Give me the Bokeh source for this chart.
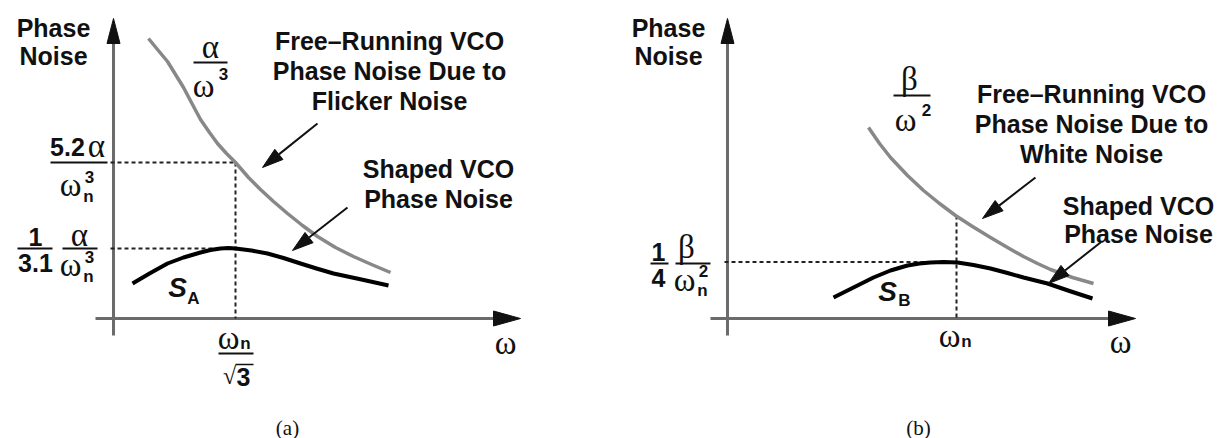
import math
from bokeh.plotting import figure
from bokeh.layouts import row
from bokeh.models import Range1d
from bokeh.core.properties import value
from bokeh.embed import file_html
from bokeh.resources import INLINE

# ---------------- data (diagram units: right of / above the origin) ----------------
# Panel (a): flicker-noise case
A_FREE_W = [35, 44, 54, 62, 70, 79, 87, 96, 104, 113, 122, 135, 147, 160, 174, 189, 204, 222, 240, 258, 277]
A_FREE_PN = [280, 269, 257, 244, 231, 214, 199, 186, 175, 165, 156, 141, 129, 117, 105, 93, 82, 71, 62, 54, 46]
A_SHAPED_W = [19, 36, 54, 70, 87, 97, 107, 115, 122, 138, 154, 170, 187, 203, 220, 248, 275]
A_SHAPED_PN = [35, 45, 55, 61, 66, 68.5, 70, 70.5, 70, 68, 65, 60.5, 55, 50, 45, 39, 33]
A_MARK_W = 122     # omega_n / sqrt(3)
A_MARK_FREE = 156  # 5.2 alpha / omega_n^3
A_MARK_PEAK = 70   # (1/3.1) alpha / omega_n^3

# Panel (b): white-noise case
B_FREE_W = [141, 152, 163, 180, 196, 212, 228, 245, 263, 280, 296, 310, 323, 345, 366]
B_FREE_PN = [191, 175, 161, 143, 128, 115, 103, 92, 81, 71, 62, 55, 49, 41, 35]
B_SHAPED_W = [106, 126, 146, 163, 180, 192, 203, 216, 230, 246, 263, 280, 296, 320, 342, 365]
B_SHAPED_PN = [21, 31, 41, 48, 53, 55, 56, 56.5, 56, 53.5, 50, 45.5, 41, 35, 27.5, 20]
B_MARK_W = 229     # omega_n
B_MARK_FREE = 103
B_MARK_PEAK = 56.5  # (1/4) beta / omega_n^2

# axis extents (diagram units)
A_AXIS = dict(x0=-18, x1=407, y0=-17, y1=300)
B_AXIS = dict(x0=-17, x1=408, y0=-17, y1=300)

# callout arrows: (start_w, start_pn, tip_w, tip_pn)
A_CALLOUTS = [(204, 195, 149, 151), (234, 111, 179, 68)]
B_CALLOUTS = [(308, 141, 255, 100), (373, 76, 321, 35)]

SANS = "Liberation Sans"
SERIF = "Liberation Serif"
INK = "#111111"
AXIS_C = "#6b6b6b"
FREE_C = "#888888"
GREEK = 33


def make_fig(w, x0):
    p = figure(width=w, height=438, x_range=Range1d(x0, x0 + w), y_range=Range1d(-120, 318),
               output_backend="svg", toolbar_location=None,
               x_axis_location=None, y_axis_location=None, min_border=0)
    p.grid.visible = False
    p.outline_line_color = None
    p.background_fill_color = "white"
    p.border_fill_color = "white"
    return p


def txt(p, x, y, s, size, font=SANS, style="bold", align="center", color=INK):
    p.text(x=[x], y=[y], text=[s], text_font=value(font), text_font_size=f"{size}px",
           text_font_style=style, text_align=align, text_baseline="middle", text_color=color)


def greek(p, x, y, s):
    txt(p, x, y, s, GREEK, SERIF, "normal")


def head(p, xs, ys, xe, ye, L, W, color=INK):
    dx, dy = xe - xs, ye - ys
    d = math.hypot(dx, dy)
    ux, uy = dx / d, dy / d
    bx, by = xe - ux * L, ye - uy * L
    nx, ny = -uy, ux
    p.patch([xe, bx + nx * W, bx - nx * W], [ye, by + ny * W, by - ny * W],
            fill_color=color, line_color=color, line_width=1)
    return bx, by


def callout(p, xs, ys, xe, ye):
    bx, by = head(p, xs, ys, xe, ye, 21, 6.5)
    p.line([xs, bx], [ys, by], line_width=2, line_color=INK)


def axes(p, ax):
    p.line([ax["x0"], ax["x1"] - 24], [0, 0], line_width=3, line_color=AXIS_C)
    p.line([0, 0], [ax["y0"], ax["y1"] - 22], line_width=3, line_color=AXIS_C)
    head(p, 0, 0, ax["x1"], 0, 27, 7.5)
    head(p, 0, 0, 0, ax["y1"], 25, 6.5)


def frac_bar(p, x0, x1, y):
    p.line([x0, x1], [y, y], line_width=2, line_color=INK)


def dotted(p, xs, ys):
    p.line(xs, ys, line_width=2, line_color="#222222", line_dash="4 3")


# ---------------- panel (a) ----------------
pa = make_fig(600, -113)
axes(pa, A_AXIS)
dotted(pa, [-3, A_MARK_W], [A_MARK_FREE, A_MARK_FREE])
dotted(pa, [A_MARK_W, A_MARK_W], [A_MARK_FREE, 0])
dotted(pa, [-3, A_MARK_W], [A_MARK_PEAK, A_MARK_PEAK])
pa.line(A_FREE_W, A_FREE_PN, line_width=3.5, line_color=FREE_C, line_join="round")
pa.line(A_SHAPED_W, A_SHAPED_PN, line_width=4, line_color="black", line_join="round")
for c in A_CALLOUTS:
    callout(pa, *c)

txt(pa, -60, 291, "Phase", 25)
txt(pa, -60, 263, "Noise", 25)
# alpha / omega^3
greek(pa, 97, 272, "α")
frac_bar(pa, 80, 114, 256)
greek(pa, 90, 233, "ω")
txt(pa, 110, 245, "3", 17)
for i, s in enumerate(["Free\u2013Running VCO", "Phase Noise Due to", "Flicker Noise"]):
    txt(pa, 276, 278 - 30 * i, s, 25)
txt(pa, 325, 150, "Shaped VCO", 25)
txt(pa, 325, 120, "Phase Noise", 25)
# 5.2 alpha / omega_n^3
txt(pa, -46, 172, "5.2", 25)
greek(pa, -17, 173, "α")
frac_bar(pa, -63, -6, 156)
greek(pa, -43, 134, "ω")
txt(pa, -25, 122, "n", 17)
txt(pa, -24, 142, "3", 17)
# 1/3.1 alpha/omega_n^3
txt(pa, -78, 82, "1", 25)
frac_bar(pa, -96, -61, 70)
txt(pa, -78, 56, "3.1", 25)
greek(pa, -34, 84, "α")
frac_bar(pa, -51, -16, 70)
greek(pa, -43, 54, "ω")
txt(pa, -25, 42, "n", 17)
txt(pa, -24, 62, "3", 17)
# S_A
txt(pa, 64, 31, "S", 28, style="bold italic")
txt(pa, 80, 20, "A", 17)
# omega_n / sqrt3
greek(pa, 115, -19, "ω")
txt(pa, 132, -25, "n", 17)
frac_bar(pa, 105, 140, -35)
txt(pa, 116, -57, "√", 24, SERIF, "normal")
txt(pa, 130, -58, "3", 25)
pa.line([122, 140], [-46, -46], line_width=1.5, line_color=INK)
greek(pa, 392, -24, "ω")
txt(pa, 174, -109, "(a)", 21, SERIF, "normal")

# ---------------- panel (b) ----------------
pb = make_fig(620, -127)
axes(pb, B_AXIS)
dotted(pb, [-3, B_MARK_W], [B_MARK_PEAK, B_MARK_PEAK])
dotted(pb, [B_MARK_W, B_MARK_W], [B_MARK_FREE, 0])
pb.line(B_FREE_W, B_FREE_PN, line_width=3.5, line_color=FREE_C, line_join="round")
pb.line(B_SHAPED_W, B_SHAPED_PN, line_width=4, line_color="black", line_join="round")
for c in B_CALLOUTS:
    callout(pb, *c)

txt(pb, -59, 291, "Phase", 25)
txt(pb, -59, 263, "Noise", 25)
# beta / omega^2
greek(pb, 182, 240, "β")
frac_bar(pb, 166, 203, 223)
greek(pb, 178, 199, "ω")
txt(pb, 199, 209, "2", 17)
for i, s in enumerate(["Free\u2013Running VCO", "Phase Noise Due to", "White Noise"]):
    txt(pb, 364, 225 - 30 * i, s, 25)
txt(pb, 411, 113, "Shaped VCO", 25)
txt(pb, 411, 85, "Phase Noise", 25)
# 1/4 beta/omega_n^2
txt(pb, -69, 67, "1", 25)
frac_bar(pb, -77, -59, 55)
txt(pb, -69, 41, "4", 25)
greek(pb, -41, 72, "β")
frac_bar(pb, -52, -17, 55)
greek(pb, -43, 39, "ω")
txt(pb, -25, 28, "n", 17)
txt(pb, -24, 48, "2", 17)
# S_B
txt(pb, 160, 27, "S", 28, style="bold italic")
txt(pb, 177, 18, "B", 17)
greek(pb, 222, -17, "ω")
txt(pb, 239, -23, "n", 17)
greek(pb, 393, -23, "ω")
txt(pb, 191, -109, "(b)", 21, SERIF, "normal")

layout = row(pa, pb)
open("out.html", "w").write(file_html(layout, INLINE))
